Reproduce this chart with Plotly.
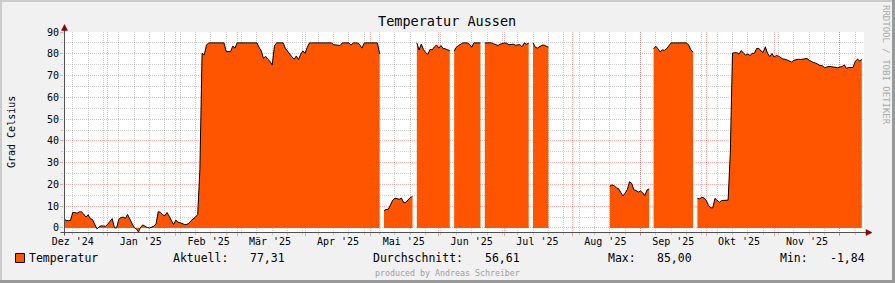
import pandas as pd
import plotly.graph_objects as go

# ---------------- data ----------------
start_date = "2024-12-12"
end_date = "2025-12-12"

# daily temperature values (Grad Celsius), None = no data
temps = [
    4.3, 3.4, 3.4, 3.5, 7.2, 7.0, 6.8, 7.4, 7.4, 6.4,            # 0
    5.0, 6.1, 4.3, 3.9, 1.5, -0.4, 0.5, 1.0, 0.9, 0.8,          # 10
    1.8, 3.3, 4.3, 0.1, 0.0, 4.0, 4.8, 5.0, 4.4, 6.2,           # 20
    4.2, 1.5, 0.2, -0.4, -1.84, 0.5, 1.4, 0.8, 0.2, 0.0,        # 30
    0.3, 0.8, 1.9, 7.5, 7.2, 6.1, 5.6, 7.1, 5.4, 3.3,           # 40
    1.6, 3.6, 2.7, 2.4, 1.9, 1.6, 1.6, 2.2, 3.4, 4.1,           # 50
    5.0, 6.2, 26.8, 80.3, 79.5, 84.0, 85, 85, 85, 85,           # 60
    85, 85, 85, 85, 81.0, 81.0, 81.0, 83.5, 82.6, 85,           # 70
    85, 85, 85, 85, 85, 85, 85, 85, 85, 83.0,                   # 80
    81.3, 77.9, 78.8, 77.5, 76.5, 74.8, 83.5, 85, 85, 85,       # 90
    85, 82.5, 81.0, 80.0, 78.6, 77.5, 79.0, 77.3, 79.8, 81.3,   # 100
    80.2, 83.0, 85, 85, 85, 85, 85, 85, 85, 85,                 # 110
    85, 85, 85, 84.2, 84.0, 84.0, 83.8, 85, 85, 85,             # 120
    85, 84.0, 85, 85, 85, 84.0, 82.6, 85, 85, 85,               # 130
    85, 85, 85, 85, 80.0, None, 8.0, 8.5, 8.6, 10.8,            # 140
    12.8, 13.7, 13.5, 13.2, 13.7, 11.6, 11.8, 13.1, 14.0, 14.4, # 150
    None, 85.0, 81.8, 84.4, 82.0, 80.5, 79.8, 82.0, 81.8, 83.2, # 160
    84.0, 82.6, 83.8, 82.4, 82.3, 81.8, 81.5, None, 81.2, 83.0, # 170
    83.8, 84.5, 85, 85, 85, 84.4, 83.0, 85, 85, 85,             # 180
    85, None, 85, 85, 85, 85, 84.6, 84.2, 83.8, 84.4,           # 190
    84.6, 85, 84.8, 84.1, 84.3, 84.4, 83.9, 84.2, 84.2, 83.2,   # 200
    85, 84.4, 84.8, None, 85, 83.0, 82.6, 83.3, 83.9, 84.0,     # 210
    83.5, 83.0, None, None, None, None, None, None, None, None, # 220
    None, None, None, None, None, None, None, None, None, None, # 230
    None, None, None, None, None, None, None, None, None, 19.2, # 240
    19.8, 19.4, 18.5, 18.1, 16.5, 14.7, 16.0, 17.6, 21.2, 20.5, # 250
    17.5, 17.2, 16.5, 17.0, 16.2, 14.9, 17.4, 18.0, None, 82.3, # 260
    83.5, 82.3, 80.8, 81.8, 81.6, 82.4, 84.0, 85, 85, 85,       # 270
    85, 85, 85, 85, 85, 84.0, 81.8, 80.7, None, 13.6,           # 280
    13.4, 14.1, 13.8, 12.7, 10.5, 9.3, 9.2, 13.6, 12.7, 11.8,   # 290
    12.6, 12.7, 12.7, 12.8, 34.4, 80.3, 80.5, 80.5, 79.8, 81.5, # 300
    80.3, 79.4, 79.9, 79.2, 80.2, 80.2, 82.4, 82.5, 81.3, 80.6, # 310
    83.2, 80.2, 78.7, 80.1, 78.5, 79.2, 78.9, 78.1, 77.6, 77.5, # 320
    77.1, 76.4, 76.2, 77.0, 77.3, 77.5, 77.4, 77.5, 77.8, 77.8, # 330
    77.0, 76.4, 76.0, 75.7, 75.0, 74.6, 74.5, 73.6, 73.9, 74.2, # 340
    74.1, 73.9, 73.5, 73.6, 73.9, 74.1, 74.9, 73.3, 73.7, 73.8, # 350
    73.7, 76.5, 77.5, 76.8, 77.31,                              # 360
]
dates = pd.date_range(start_date, periods=len(temps), freq="D")

month_starts = ["2025-01-01", "2025-02-01", "2025-03-01", "2025-04-01",
                "2025-05-01", "2025-06-01", "2025-07-01", "2025-08-01",
                "2025-09-01", "2025-10-01", "2025-11-01", "2025-12-01"]
label_dates = ["2024-12-16", "2025-01-16", "2025-02-16", "2025-03-16",
               "2025-04-16", "2025-05-16", "2025-06-16", "2025-07-16",
               "2025-08-16", "2025-09-16", "2025-10-16", "2025-11-16"]
month_labels = ["Dez '24", "Jan '25", "Feb '25", "Mär '25", "Apr '25", "Mai '25",
                "Jun '25", "Jul '25", "Aug '25", "Sep '25", "Okt '25", "Nov '25"]
week_starts = pd.date_range("2024-12-16", end_date, freq="7D")

y_major = [0, 10, 20, 30, 40, 50, 60, 70, 80, 90]
y_minor = [5, 15, 25, 35, 45, 55, 65, 75, 85]
y_min, y_max = -1.84, 90

title_text = "Temperatur Aussen"
y_title = "Grad Celsius"
series_name = "Temperatur"
stat_labels = ["Aktuell:", "Durchschnitt:", "Max:", "Min:"]
stat_values = ["77,31", "56,61", "85,00", "-1,84"]
credit = "produced by Andreas Schreiber"
watermark = "RRDTOOL / TOBI OETIKER"

# ---------------- style ----------------
W, H = 895, 283
L, T, PW, PH = 64, 32, 800, 200
MONO = "DejaVu Sans Mono"
ORANGE = "#FF5500"
BACK = "#F1F1F1"
MGRID = "rgba(255,0,0,0.32)"
GRID = "rgba(130,130,130,0.38)"
ARROW = "#8B0000"
AXIS = "#505050"


def px(x):
    return (x - L) / PW


def py(y):
    return (T + PH - y) / PH


# split the series into contiguous runs (gaps = missing data)
segments = []
cur_x, cur_y = [], []
for d, v in zip(dates, temps):
    if v is None:
        if cur_x:
            segments.append((cur_x, cur_y))
        cur_x, cur_y = [], []
    else:
        cur_x.append(d)
        cur_y.append(v)
if cur_x:
    segments.append((cur_x, cur_y))

fig = go.Figure()
for sx, sy in segments:
    fig.add_trace(go.Scatter(
        x=sx, y=sy, mode="lines", name=series_name,
        line=dict(width=0, color=ORANGE), fill="tozeroy", fillcolor=ORANGE,
        hoverinfo="skip", showlegend=False))
for sx, sy in segments:
    fig.add_trace(go.Scatter(
        x=sx, y=sy, mode="lines", name=series_name,
        line=dict(width=1, color="#000000"),
        xaxis="x2", yaxis="y2", hoverinfo="skip", showlegend=False))

fig.update_layout(
    width=W, height=H, autosize=False,
    margin=dict(l=L, r=W - L - PW, t=T, b=H - T - PH, pad=0),
    paper_bgcolor=BACK, plot_bgcolor="#FFFFFF",
    font=dict(family=MONO, color="#000000", size=10),
    xaxis=dict(type="date", range=[start_date, end_date], tickmode="array",
               tickvals=label_dates, ticktext=month_labels, showgrid=False,
               zeroline=False, showline=False, ticks="", fixedrange=True,
               ticklabelstandoff=2,
               tickfont=dict(family=MONO, size=10, color="#000000")),
    yaxis=dict(range=[y_min, y_max], tickmode="array", tickvals=y_major,
               ticktext=[str(v) for v in y_major], showgrid=False,
               zeroline=False, showline=False, ticks="", fixedrange=True,
               ticklabelstandoff=4,
               tickfont=dict(family=MONO, size=10, color="#000000")),
    xaxis2=dict(type="date", overlaying="x", matches="x", anchor="y2",
                side="bottom", tickmode="array", tickvals=month_starts,
                showticklabels=False, showgrid=True, gridcolor=MGRID,
                griddash="1px,1px", gridwidth=1, zeroline=False,
                ticks="outside", ticklen=3, tickcolor=MGRID, fixedrange=True,
                minor=dict(tickmode="array", tickvals=list(week_starts),
                           showgrid=True, gridcolor=GRID, griddash="1px,1px",
                           ticks="outside", ticklen=2, tickcolor=GRID)),
    yaxis2=dict(overlaying="y", matches="y", anchor="x2", side="left",
                tickmode="array", tickvals=y_major, showticklabels=False,
                showgrid=True, gridcolor=MGRID, griddash="1px,1px",
                zeroline=False, ticks="outside", ticklen=3, tickcolor=MGRID,
                fixedrange=True,
                minor=dict(tickmode="array", tickvals=y_minor, showgrid=True,
                           gridcolor=GRID, griddash="1px,1px",
                           ticks="outside", ticklen=2, tickcolor=GRID)),
)

shapes = [
    # 3D frame
    dict(type="rect", xref="paper", yref="paper", x0=px(0), x1=px(W), y0=py(0), y1=py(2),
         fillcolor="#CBCBCB", line=dict(width=0), layer="below"),
    dict(type="rect", xref="paper", yref="paper", x0=px(0), x1=px(2), y0=py(0), y1=py(H),
         fillcolor="#CBCBCB", line=dict(width=0), layer="below"),
    dict(type="rect", xref="paper", yref="paper", x0=px(0), x1=px(W), y0=py(H - 3), y1=py(H),
         fillcolor="#999999", line=dict(width=0)),
    dict(type="rect", xref="paper", yref="paper", x0=px(W - 3), x1=px(W), y0=py(0), y1=py(H),
         fillcolor="#999999", line=dict(width=0)),
    # axis lines
    dict(type="line", xref="paper", yref="paper", x0=px(60.5), x1=px(867), y0=py(232.5), y1=py(232.5),
         line=dict(color=AXIS, width=1)),
    dict(type="line", xref="paper", yref="paper", x0=px(64.5), x1=px(64.5), y0=py(235.5), y1=py(28),
         line=dict(color=AXIS, width=1)),
    # arrows
    dict(type="path", xref="paper", yref="paper",
         path=f"M {px(61.5)},{py(30.5)} L {px(67.5)},{py(30.5)} L {px(64.5)},{py(24.5)} Z",
         fillcolor=ARROW, line=dict(color=ARROW, width=0.5)),
    dict(type="path", xref="paper", yref="paper",
         path=f"M {px(866)},{py(229.5)} L {px(866)},{py(235.5)} L {px(872)},{py(232.5)} Z",
         fillcolor=ARROW, line=dict(color=ARROW, width=0.5)),
    # legend swatch
    dict(type="rect", xref="paper", yref="paper", x0=px(15.5), x1=px(24.5), y0=py(253.5), y1=py(262.5),
         fillcolor=ORANGE, line=dict(color="#000000", width=1)),
]
fig.update_layout(shapes=shapes)

ann = []
ann.append(dict(text=title_text, x=px(447), y=py(21), xref="paper", yref="paper",
                xanchor="center", yanchor="middle", showarrow=False,
                font=dict(family=MONO, size=13.5, color="#000000")))
ann.append(dict(text=y_title, x=px(11), y=py(132), xref="paper", yref="paper",
                xanchor="center", yanchor="middle", showarrow=False, textangle=-90,
                font=dict(family=MONO, size=10, color="#000000")))
ann.append(dict(text=watermark, x=px(886), y=py(65), xref="paper", yref="paper",
                xanchor="center", yanchor="middle", showarrow=False, textangle=90,
                font=dict(family=MONO, size=9, color="#AAAAAA")))
ann.append(dict(text=series_name, x=px(27), y=py(258), xref="paper", yref="paper",
                xanchor="left", yanchor="middle", showarrow=False,
                font=dict(family=MONO, size=11.5, color="#000000")))
label_x = [171, 371, 606, 778]
value_x = [248, 483, 655, 828]
for lab, val, lx, vx in zip(stat_labels, stat_values, label_x, value_x):
    ann.append(dict(text=lab, x=px(lx), y=py(258), xref="paper", yref="paper",
                    xanchor="left", yanchor="middle", showarrow=False,
                    font=dict(family=MONO, size=11.5, color="#000000")))
    ann.append(dict(text=val, x=px(vx), y=py(258), xref="paper", yref="paper",
                    xanchor="left", yanchor="middle", showarrow=False,
                    font=dict(family=MONO, size=11.5, color="#000000")))
ann.append(dict(text=credit, x=px(447), y=py(272.5), xref="paper", yref="paper",
                xanchor="center", yanchor="middle", showarrow=False,
                font=dict(family=MONO, size=8.3, color="#A0A0A0")))
fig.update_layout(annotations=ann)

fig.write_html("out.html", config={"displayModeBar": False, "staticPlot": True})
